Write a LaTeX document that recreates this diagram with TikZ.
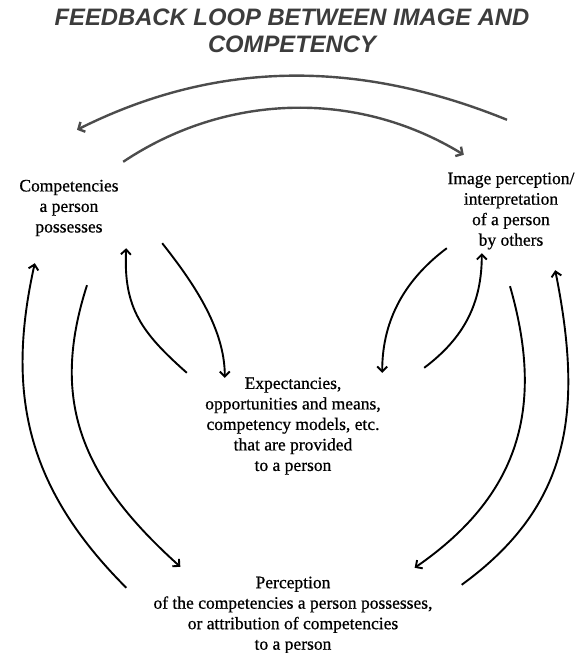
\documentclass[tikz,border=0pt]{standalone}
\usepackage{fontspec}
\setmainfont{Liberation Serif}[FakeBold=0.7]
\setsansfont{Liberation Sans}
\usetikzlibrary{arrows.meta}
\definecolor{titlegray}{HTML}{3C3C3C}
\definecolor{loopgray}{HTML}{4C4C4C}
\begin{document}
\begin{tikzpicture}[x=1pt,y=-1pt]
            \tikzstyle{every node}+=[inner sep=0pt]
            \tikzstyle{txt}=[align=center,font=\fontsize{17.5}{20.5}\selectfont]
            \tikzstyle{greyarrow}=[draw=loopgray,line width=2.4pt,-{Straight Barb[length=5pt,width=11pt]}]
            \tikzstyle{curvedarrow}=[draw=black,line width=1.9pt,-{Straight Barb[length=5pt,width=10pt]}]
            \useasboundingbox (0,0) rectangle (575,653);
            \node [anchor=north,align=center,text=titlegray,font=\sffamily\bfseries\itshape\fontsize{23.8}{27}\selectfont] (title) at (292,9) {FEEDBACK LOOP BETWEEN IMAGE AND\\COMPETENCY};
            \node [txt,minimum width=104pt,minimum height=60pt] (comp) at (69,208) {Competencies\\a person\\possesses};
            \node [txt,minimum width=128pt,minimum height=80pt] (img) at (511,211) {Image perception/\\interpretation\\of a person\\by others};
            \node [txt,minimum width=180pt,minimum height=100pt] (exp) at (293,426) {Expectancies,\\opportunities and means,\\competency models, etc.\\that are provided\\to a person};
            \node [txt,minimum width=276pt,minimum height=80pt] (perc) at (293,615) {Perception\\of the competencies a person possesses,\\or attribution of competencies\\to a person};
            \draw [greyarrow] ([xshift=-4pt,yshift=51pt]img.north) .. controls +(-160,-65) and +(130,-65) .. ([xshift=8pt,yshift=48pt]comp.north);
            \draw [greyarrow] ([xshift=2pt,yshift=16pt]comp.north east) .. controls +(100,-67) and +(-110,-67) .. ([xshift=17pt,yshift=16pt]img.north west);
            \draw [curvedarrow] ([xshift=41pt,yshift=-5pt]comp.south east) .. controls +(30,38) and +(0,-50) .. ([xshift=22pt,yshift=-2pt]exp.north west);
            \draw [curvedarrow] ([xshift=-16pt,yshift=3pt]exp.north west) .. controls +(-45,-40) and +(-3,60) .. ([xshift=5pt,yshift=-10pt]comp.south east);
            \draw [curvedarrow] ([yshift=3pt]img.south west) .. controls +(-40,30) and +(0,-55) .. ([xshift=-1pt,yshift=3pt]exp.north east);
            \draw [curvedarrow] ([xshift=41pt,yshift=8pt]exp.north east) .. controls +(40,-30) and +(0,50) .. ([xshift=35pt,yshift=-2pt]img.south west);
            \draw [curvedarrow] ([xshift=-27pt,yshift=-13pt]perc.north west) .. controls +(-100,-100) and +(-29,130) .. ([xshift=18pt,yshift=-25pt]comp.south west);
            \draw [curvedarrow] ([xshift=18pt,yshift=-47pt]comp.south) .. controls +(-37,115) and +(-100,-90) .. ([xshift=27pt,yshift=8pt]perc.north west);
            \draw [curvedarrow] ([xshift=-1pt,yshift=-35pt]img.south) .. controls +(33,115) and +(110,-76) .. ([xshift=-18pt,yshift=7pt]perc.north east);
            \draw [curvedarrow] ([xshift=29pt,yshift=-10pt]perc.north east) .. controls +(110,-80) and +(28,140) .. ([xshift=-20pt,yshift=-19pt]img.south east);
\end{tikzpicture}
\end{document}
